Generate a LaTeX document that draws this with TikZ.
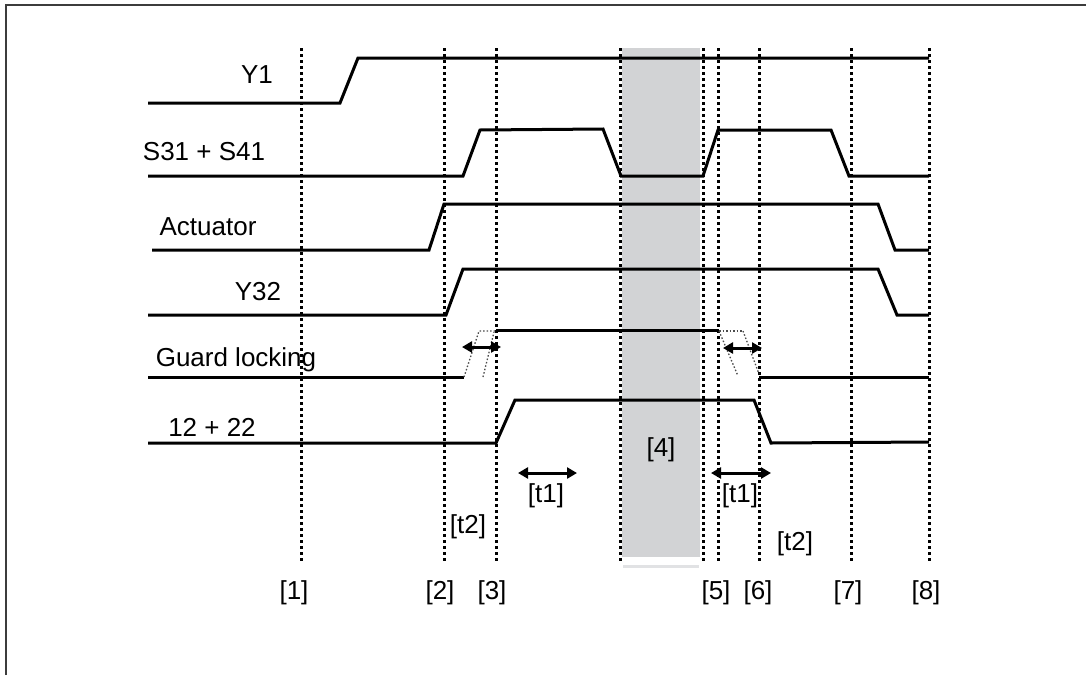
\documentclass[tikz,border=0pt]{standalone}
\usepackage{fontspec}
\setmainfont{Liberation Sans}
\usetikzlibrary{arrows.meta}
\definecolor{bandgray}{RGB}{210,211,213}
\definecolor{striplight}{RGB}{225,226,228}
\definecolor{framegray}{RGB}{60,60,60}
\tikzset{
  sig/.style={line width=3pt, line join=miter, black},
  vdot/.style={line width=3pt, dash pattern=on 3pt off 3pt, black},
  thindot/.style={line width=1.3pt, dash pattern=on 1.5pt off 2pt, black!70},
  dblarrow/.style={line width=3pt, {Triangle[length=10pt,width=11pt]}-{Triangle[length=10pt,width=11pt]}},
  lbl/.style={inner sep=0pt, font=\fontsize{26}{30}\selectfont},
}
\begin{document}
\begin{tikzpicture}[x=1pt,y=-1pt]
\useasboundingbox (0,0) rectangle (1086,675);
% frame
\draw[framegray, line width=2pt] (6,675) -- (6,5) -- (1086,5);
% gray band
\fill[bandgray] (622,48) rectangle (700,557);
\fill[striplight] (623,565) rectangle (699,568);
% vertical dotted lines
\foreach \x in {301,444,496,620,703,718,759,851,929}
  \draw[vdot] (\x,48) -- (\x,561);
% Y1
\draw[sig] (148,103) -- (340,103) -- (358,58) -- (929,58);
\node[lbl] (lY1) at (257,75) {Y1};
% S31 + S41
\draw[sig] (148,176) -- (463,176) -- (480,130) -- (603,129) -- (621,176) -- (703,176) -- (718,130) -- (831,130) -- (849,176) -- (929,176);
\node[lbl] (lS) at (204,152) {S31 + S41};
% Actuator
\draw[sig] (152,250) -- (429,250) -- (444,204) -- (878,204) -- (895,250) -- (929,250);
\node[lbl] (lA) at (208,227) {Actuator};
% Y32
\draw[sig] (148,315) -- (446,315) -- (463,269) -- (878,269) -- (897,315) -- (929,315);
\node[lbl] (lY32) at (258,292) {Y32};
% Guard locking
\draw[sig] (148,377) -- (464,377);
\draw[thindot] (464,377) -- (479,331) -- (496,331);
\draw[thindot] (483,377) -- (494,332);
\draw[sig] (496,330) -- (719,330);
\draw[thindot] (719,331) -- (743,331);
\draw[thindot] (719,331) -- (738,376);
\draw[thindot] (743,331) -- (759,374);
\draw[sig] (759,377) -- (929,377);
\coordinate (ga1) at (462,347);
\coordinate (gb1) at (501,347);
\draw[dblarrow] (ga1) -- (gb1);
\coordinate (ga2) at (723,348);
\coordinate (gb2) at (762,348);
\draw[dblarrow] (ga2) -- (gb2);
\node[lbl] (lG) at (236,360) {Guard locking};
% 12 + 22
\draw[sig] (148,443) -- (496,443) -- (515,400) -- (754,400) -- (771,443) -- (929,442);
\node[lbl] (l12) at (212,427) {12 + 22};
% t1 arrows
\coordinate (ta1) at (518,473);
\coordinate (tb1) at (577,473);
\draw[dblarrow] (ta1) -- (tb1);
\coordinate (ta2) at (711,473);
\coordinate (tb2) at (771,473);
\draw[dblarrow] (ta2) -- (tb2);
% labels
\node[lbl] (t1a) at (546,496) {[t1]};
\node[lbl] (t1b) at (740,496) {[t1]};
\node[lbl] (l4) at (661,450) {[4]};
\node[lbl] (t2a) at (468,527) {[t2]};
\node[lbl] (t2b) at (795,544) {[t2]};
\node[lbl] (n1) at (294,593) {[1]};
\node[lbl] (n2) at (440,593) {[2]};
\node[lbl] (n3) at (492,593) {[3]};
\node[lbl] (n5) at (716,593) {[5]};
\node[lbl] (n6) at (758,593) {[6]};
\node[lbl] (n7) at (848,593) {[7]};
\node[lbl] (n8) at (926,593) {[8]};
\end{tikzpicture}
\end{document}
